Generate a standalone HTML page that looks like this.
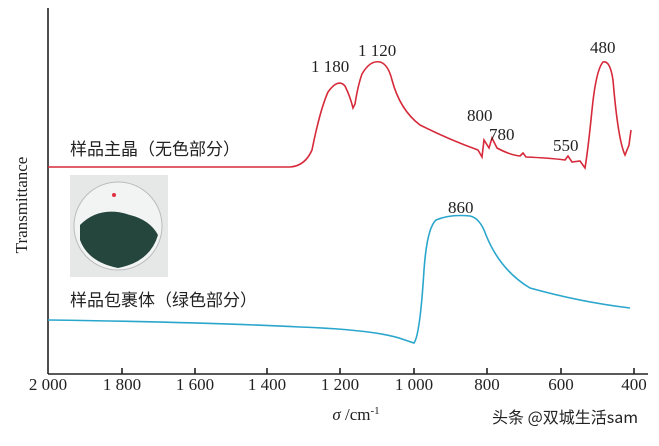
<!DOCTYPE html>
<html><head><meta charset="utf-8"><style>
body{margin:0;background:#fff;}
svg text{font-family:"Liberation Serif","Noto Serif CJK SC",serif;fill:#222;}
</style></head><body>
<svg width="659" height="441" viewBox="0 0 659 441" xmlns="http://www.w3.org/2000/svg">
<rect width="659" height="441" fill="#fff"/>
<g stroke="#222" stroke-width="1.6" fill="none">
<line x1="48" y1="8" x2="48" y2="374"/>
<line x1="48" y1="374" x2="648" y2="374"/>
<line x1="122" y1="374" x2="122" y2="368"/><line x1="195" y1="374" x2="195" y2="368"/>
<line x1="267" y1="374" x2="267" y2="368"/><line x1="340" y1="374" x2="340" y2="368"/>
<line x1="414" y1="374" x2="414" y2="368"/><line x1="487" y1="374" x2="487" y2="368"/>
<line x1="561" y1="374" x2="561" y2="368"/><line x1="634" y1="374" x2="634" y2="368"/>
</g>
<g font-size="17" text-anchor="middle">
<text x="48" y="390">2 000</text><text x="122" y="390">1 800</text><text x="195" y="390">1 600</text>
<text x="267" y="390">1 400</text><text x="340" y="390">1 200</text><text x="414" y="390">1 000</text>
<text x="487" y="390">800</text><text x="561" y="390">600</text><text x="634" y="390">400</text>
<text x="356" y="420"><tspan font-style="italic">σ</tspan> /cm<tspan font-size="11" dy="-6">-1</tspan></text>
</g>
<text x="0" y="0" font-size="17" text-anchor="middle" transform="translate(27,205) rotate(-90)">Transmittance</text>
<path fill="none" stroke="#d62a3a" stroke-width="1.6" d="M48 167 L290 167 Q305 166 312 150 Q320 110 328 92 Q338 78 345 86 Q350 96 353 108 L355 104 Q358 85 362 74 Q370 60 380 62 Q388 64 392 80 Q400 110 420 125 Q450 140 478 150 L482 157 L484 140 L489 148 L492 138 L497 148 Q510 155 520 156 L523 153 L526 157 Q550 158 565 160 L568 156 L572 162 L580 161 L585 168 Q588 150 592 110 Q596 70 603 62 Q610 60 613 80 Q618 140 625 155 L629 145 L631 130"/>
<path fill="none" stroke="#2aa6cc" stroke-width="1.6" d="M48 320 Q200 322 300 327 Q380 330 405 340 L414 343 Q420 335 424 270 Q427 228 436 220 Q450 214 470 216 Q480 218 486 235 Q500 270 530 288 Q580 302 630 308"/>
<g font-size="17">
<text x="311" y="72">1 180</text>
<text x="358" y="56">1 120</text>
<text x="467" y="121">800</text>
<text x="489" y="140">780</text>
<text x="553" y="151">550</text>
<text x="590" y="53">480</text>
<text x="448" y="213">860</text>
</g>
<g font-size="17">
<text x="70" y="155" style="font-family:'Noto Sans CJK SC',sans-serif">样品主晶（无色部分）</text>
<text x="70" y="306" style="font-family:'Noto Sans CJK SC',sans-serif">样品包裹体（绿色部分）</text>
</g>
<rect x="70" y="175" width="98" height="102" fill="#e6e8e8"/>
<circle cx="118" cy="226" r="44" fill="#f2f4f4" stroke="#bbb"/>
<path d="M80 225 Q100 205 130 215 Q150 220 158 235 Q150 262 118 268 Q88 262 80 240 Z" fill="#24463c"/>
<circle cx="114" cy="195" r="2" fill="#e03040"/>
<text x="492" y="423" font-size="16" style="font-family:'Noto Sans CJK SC',sans-serif" fill="#333">头条 @双城生活sam</text>
</svg>
</body></html>
